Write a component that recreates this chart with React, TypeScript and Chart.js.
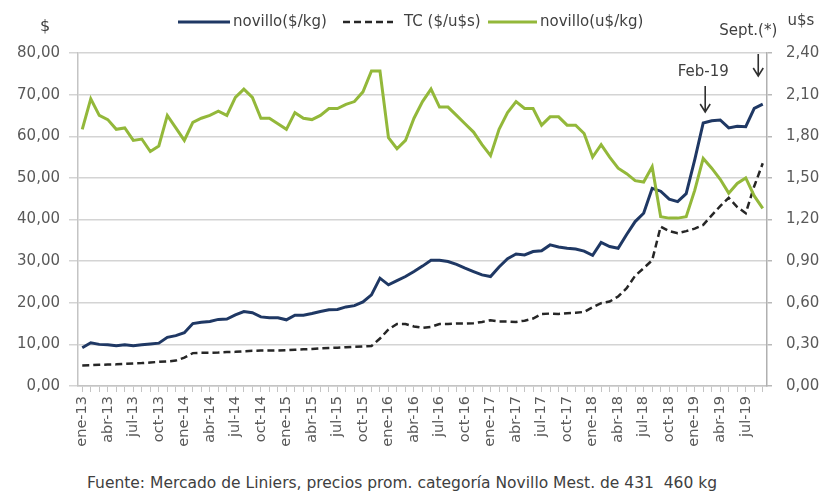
import React, { useEffect, useRef } from 'react';
import { Chart, registerables } from 'chart.js';

Chart.register(...registerables);

const FONT = '"DejaVu Sans", sans-serif';
const TEXT = '#404040';

const monthNames = ['ene', 'feb', 'mar', 'abr', 'may', 'jun', 'jul', 'ago', 'sep', 'oct', 'nov', 'dic'];
const years = ['13', '14', '15', '16', '17', '18', '19'];
const lastMonthIndex2019 = 8; // sep-19
const categories: string[] = [];
years.forEach((y, yi) => {
  monthNames.forEach((m, mi) => {
    if (yi < years.length - 1 || mi <= lastMonthIndex2019) categories.push(`${m}-${y}`);
  });
});

const novilloPesos = [
  9.2, 10.4, 10.0, 9.9, 9.7, 9.9, 9.7, 9.9, 10.1, 10.3, 11.7, 12.1,
  12.8, 15.0, 15.3, 15.5, 16.0, 16.1, 17.1, 17.9, 17.6, 16.6, 16.4, 16.4,
  15.9, 17.0, 17.0, 17.4, 17.9, 18.3, 18.4, 19.0, 19.3, 20.2, 21.9, 25.9,
  24.3, 25.3, 26.3, 27.5, 28.8, 30.2, 30.2, 29.9, 29.2, 28.3, 27.5, 26.7,
  26.3, 28.6, 30.6, 31.7, 31.5, 32.3, 32.5, 33.9, 33.4, 33.1, 32.9, 32.4,
  31.4, 34.5, 33.5, 33.1, 36.4, 39.5, 41.5, 47.5, 46.8, 44.9, 44.3, 46.2,
  54.3, 63.2, 63.7, 63.9, 62.0, 62.4, 62.3, 66.7, 67.7,
];

const tipoCambio = [
  4.95, 5.0, 5.1, 5.15, 5.2, 5.3, 5.4, 5.5, 5.65, 5.8, 5.9, 6.1,
  6.8, 7.9, 8.0, 8.0, 8.05, 8.15, 8.2, 8.35, 8.45, 8.5, 8.5, 8.55,
  8.6, 8.7, 8.8, 8.9, 9.05, 9.15, 9.2, 9.3, 9.4, 9.5, 9.6, 11.4,
  13.6, 14.9, 14.9, 14.3, 14.0, 14.2, 14.9, 14.9, 15.0, 15.0, 15.1, 15.4,
  15.8, 15.5, 15.5, 15.4, 15.7, 16.2, 17.3, 17.4, 17.3, 17.5, 17.6, 17.8,
  18.9, 19.9, 20.3, 21.5, 23.5, 26.5, 28.3, 30.2, 38.3, 37.2, 36.7, 37.2,
  37.8, 38.7, 41.0, 43.2, 45.2, 43.0, 41.5, 48.0, 53.5,
];

const novilloDolares = [
  1.85, 2.07, 1.95, 1.92, 1.85, 1.86, 1.77, 1.78, 1.69, 1.73, 1.95, 1.86,
  1.77, 1.90, 1.93, 1.95, 1.98, 1.95, 2.08, 2.14, 2.08, 1.93, 1.93, 1.89,
  1.85, 1.97, 1.93, 1.92, 1.95, 2.00, 2.00, 2.03, 2.05, 2.12, 2.27, 2.27,
  1.79, 1.71, 1.77, 1.93, 2.05, 2.14, 2.01, 2.01, 1.95, 1.89, 1.83, 1.74,
  1.66, 1.85, 1.97, 2.05, 2.00, 2.00, 1.88, 1.94, 1.94, 1.88, 1.88, 1.82,
  1.65, 1.74, 1.65, 1.57, 1.53, 1.48, 1.47, 1.58, 1.22, 1.21, 1.21, 1.22,
  1.41, 1.64, 1.57, 1.49, 1.39, 1.46, 1.50, 1.37, 1.28,
];

const seriesLabels = ['novillo($/kg)', 'TC ($/u$s)', 'novillo(u$/kg)'];
const feb19Index = 73;
const sept19Index = 80;

const fmt = (v: number) => Number(v).toFixed(2).replace('.', ',');

const overlayPlugin = {
  id: 'overlay',
  afterDraw(chart: any) {
    const ctx = chart.ctx as CanvasRenderingContext2D;
    ctx.save();
    // legend
    const legendPos = [
      { x0: 178, x1: 230, tx: 233 },
      { x0: 343, x1: 393, tx: 404 },
      { x0: 488, x1: 537, tx: 540 },
    ];
    const ly = 22;
    chart.data.datasets.forEach((ds: any, k: number) => {
      const p = legendPos[k];
      ctx.beginPath();
      ctx.setLineDash(ds.borderDash || []);
      ctx.strokeStyle = ds.borderColor;
      ctx.lineWidth = ds.borderWidth;
      ctx.moveTo(p.x0, ly);
      ctx.lineTo(p.x1, ly);
      ctx.stroke();
      ctx.setLineDash([]);
      ctx.fillStyle = TEXT;
      ctx.font = `15px ${FONT}`;
      ctx.textAlign = 'left';
      ctx.textBaseline = 'middle';
      ctx.fillText(ds.label, p.tx, ly);
    });

    // axis units
    ctx.fillStyle = TEXT;
    ctx.font = `16px ${FONT}`;
    ctx.textAlign = 'center';
    ctx.textBaseline = 'middle';
    ctx.fillText('$', 45, 27);
    ctx.font = `15px ${FONT}`;
    ctx.fillText('u$s', 801, 21);

    const xs = chart.scales.x;
    const arrow = (x: number, y1: number, y2: number) => {
      ctx.beginPath();
      ctx.strokeStyle = '#303030';
      ctx.lineWidth = 1.6;
      ctx.moveTo(x, y1);
      ctx.lineTo(x, y2);
      ctx.moveTo(x - 5, y2 - 8);
      ctx.lineTo(x, y2);
      ctx.lineTo(x + 5, y2 - 8);
      ctx.stroke();
    };
    // Feb-19
    const xf = xs.getPixelForValue(feb19Index) + 2;
    ctx.fillStyle = TEXT;
    ctx.font = `15px ${FONT}`;
    ctx.fillText('Feb-19', xf - 2, 72);
    arrow(xf, 86, 112);
    // Sept.(*)
    const xsp = xs.getPixelForValue(sept19Index) - 4.5;
    ctx.fillText('Sept.(*)', xsp - 10, 31);
    arrow(xsp, 54, 76);
    ctx.restore();
  },
};

export default function App() {
  const ref = useRef<HTMLCanvasElement | null>(null);
  useEffect(() => {
    if (!ref.current) return;
    const chart = new Chart(ref.current, {
      type: 'line',
      data: {
        labels: categories,
        datasets: [
          {
            label: seriesLabels[0],
            data: novilloPesos,
            borderColor: '#1f3864',
            backgroundColor: '#1f3864',
            borderWidth: 3,
            pointRadius: 0,
            tension: 0,
            yAxisID: 'y',
            order: 3,
          },
          {
            label: seriesLabels[1],
            data: tipoCambio,
            borderColor: '#262626',
            backgroundColor: '#262626',
            borderWidth: 2.5,
            borderDash: [7, 4],
            pointRadius: 0,
            tension: 0,
            yAxisID: 'y',
            order: 2,
          },
          {
            label: seriesLabels[2],
            data: novilloDolares,
            borderColor: '#93b83a',
            backgroundColor: '#93b83a',
            borderWidth: 3,
            pointRadius: 0,
            tension: 0,
            yAxisID: 'y1',
            order: 1,
          },
        ],
      },
      options: {
        responsive: false,
        animation: false,
        devicePixelRatio: 1,
        layout: { padding: { top: 53, left: 0, right: 0, bottom: 0 } },
        plugins: {
          legend: { display: false },
          tooltip: { enabled: false },
          title: { display: false },
        },
        scales: {
          x: {
            type: 'category',
            offset: true,
            grid: {
              display: true,
              drawOnChartArea: false,
              drawTicks: true,
              tickLength: 6,
              color: '#c4c4c4',
              lineWidth: 1,
            },
            border: { display: true, color: '#c4c4c4', width: 1.5 },
            ticks: {
              autoSkip: false,
              maxRotation: 90,
              minRotation: 90,
              padding: 4,
              color: '#595959',
              font: { family: FONT, size: 14.5 },
              callback: (_v: any, i: number) => (i % 3 === 0 ? categories[i] : ''),
            },
            afterFit: (s: any) => {
              s.height = 74;
            },
          },
          y: {
            position: 'left',
            min: 0,
            max: 80,
            ticks: {
              stepSize: 10,
              padding: 9,
              color: '#595959',
              font: { family: FONT, size: 15 },
              callback: (v: any) => fmt(v),
            },
            grid: {
              color: '#d4d4d4',
              lineWidth: 1.5,
              tickLength: 9,
              drawTicks: true,
            },
            border: { display: true, color: '#c4c4c4', width: 1.5 },
            afterFit: (s: any) => {
              s.width = 78;
            },
          },
          y1: {
            position: 'right',
            min: 0,
            max: 2.4,
            ticks: {
              stepSize: 0.3,
              padding: 14,
              color: '#595959',
              font: { family: FONT, size: 15 },
              callback: (v: any) => fmt(v),
            },
            grid: {
              drawOnChartArea: false,
              drawTicks: true,
              tickLength: 5,
              color: '#b8b8b8',
              lineWidth: 1.5,
            },
            border: { display: true, color: '#b0b0b0', width: 1.5 },
            afterFit: (s: any) => {
              s.width = 59;
            },
          },
        },
      },
      plugins: [overlayPlugin],
    });
    return () => chart.destroy();
  }, []);

  return (
    <div style={{ position: 'absolute', left: 0, top: 0, width: 826, height: 500, background: '#fff' }}>
      <canvas ref={ref} width={826} height={460} style={{ display: 'block' }} />
      <div
        style={{
          position: 'absolute',
          left: 87,
          top: 473,
          fontFamily: FONT,
          fontSize: 15.5,
          color: TEXT,
          whiteSpace: 'pre',
          lineHeight: '20px',
        }}
      >
        Fuente: Mercado de Liniers, precios prom. categoría Novillo Mest. de 431  460 kg
      </div>
    </div>
  );
}
